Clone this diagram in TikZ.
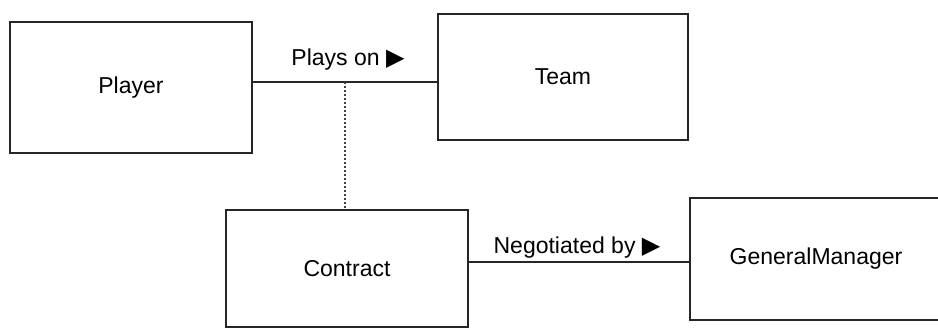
\documentclass[tikz,border=0pt]{standalone}
\usepackage{fontspec}
\setmainfont{Liberation Sans}
\newfontfamily\symfont{DejaVu Sans}
\newcommand{\roletri}{{\symfont\fontsize{24}{28}\selectfont ▶}}
\begin{document}
\begin{tikzpicture}[x=1pt,y=-1pt,
  entity/.style={draw=black!85, line width=1.8pt, rectangle, inner sep=0pt,
                 font=\fontsize{23}{27}\selectfont},
  assoc/.style={draw=black!85, line width=1.6pt},
  link/.style={draw=black!75, line width=1.5pt, dash pattern=on 1.5pt off 2.5pt},
  rolename/.style={font=\fontsize{23}{27}\selectfont, anchor=base, inner sep=0pt}]
\useasboundingbox (0,0) rectangle (938,333);

% entity boxes
\node[entity, minimum width=242pt, minimum height=131pt] (player)   at (131,87.5) {Player};
\node[entity, minimum width=250pt, minimum height=126pt] (team)     at (563,77)   {Team};
\node[entity, minimum width=242pt, minimum height=117pt] (contract) at (347,268.5) {Contract};
\node[entity, minimum width=252pt, minimum height=122pt] (gm)       at (816,259)  {GeneralManager};

% associations
\coordinate (pa) at (player.east |- 0,82);
\coordinate (pb) at (team.west |- 0,82);
\draw[assoc] (pa) -- (pb);
\node[rolename] (plays) at (348,65) {Plays on \roletri};

\coordinate (na) at (contract.east |- 0,262);
\coordinate (nb) at (gm.west |- 0,262);
\draw[assoc] (na) -- (nb);
\node[rolename] (neg) at (577,253) {Negotiated by \roletri};

% association class link
\coordinate (mid) at (345,82);
\draw[link] (mid) -- (mid |- contract.north);
\end{tikzpicture}
\end{document}
